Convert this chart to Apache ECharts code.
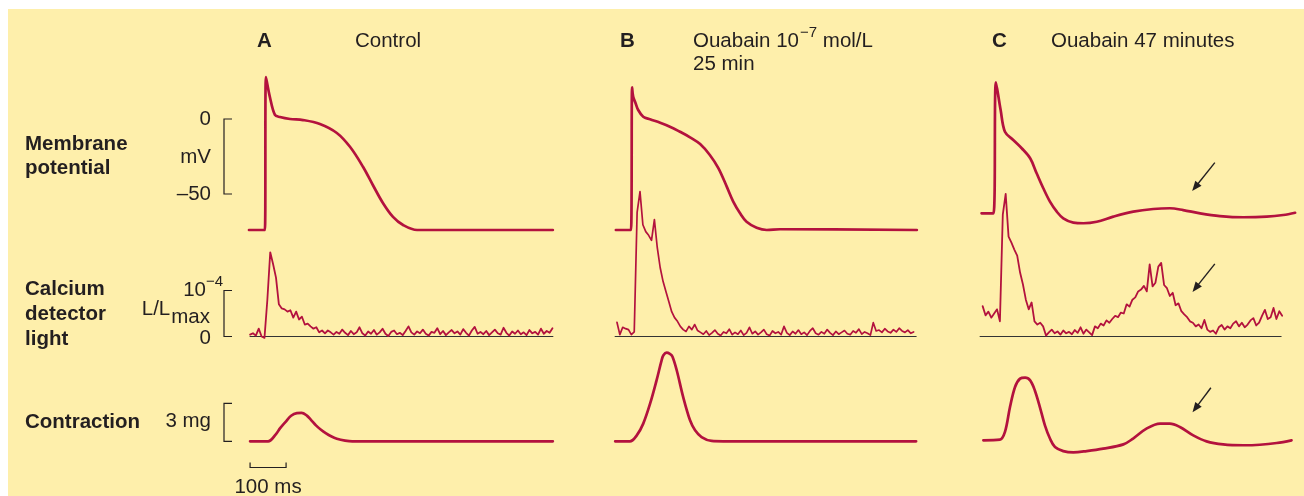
<!DOCTYPE html>
<html><head><meta charset="utf-8">
<script src="https://cdn.jsdelivr.net/npm/echarts@6/dist/echarts.min.js"></script>
<style>html,body{margin:0;padding:0;background:#fff}#c{width:1304px;height:496px}</style>
</head><body><div id="c"></div>
<script>
// ---------- DATA (time in ms, membrane in mV, calcium in 1e-4 L/Lmax, contraction in mg) ----------
const memA = [[25,-74],[69,-74],[72,28],[83,14.7],[97,2.7],[111,1.3],[139,0],[175,-0.7],[222,-3.3],[269,-9.3],[306,-18.7],[342,-32],[369,-44],[397,-56],[425,-65.3],[453,-70.7],[492,-74],[869,-74]];
const memB = [[33,-74],[75,-74],[78,21.1],[81,14.9],[87.5,10.7],[95,6],[109,1.5],[128,-0.2],[156,-2.5],[183,-5.1],[211,-8.5],[239,-12.2],[267,-16.7],[294,-24],[318,-32.9],[341,-45.1],[359,-55.1],[378,-62.9],[396,-68.5],[424,-72.5],[452,-74],[489,-73.5],[869,-74]];
const memC = [[21,-62.9],[54,-62.9],[61,24.5],[74,6],[86,-8.5],[109,-14],[132.5,-19.5],[156,-26.2],[174,-36.2],[192.5,-46.2],[211,-55.1],[230,-61.8],[248,-66.2],[276,-69.1],[304,-69.5],[341,-68.5],[387,-65.1],[442.5,-61.8],[498,-60],[544,-59.5],[581,-60.7],[628,-62.9],[683,-64.7],[748,-65.5],[813,-65.1],[859,-64],[892,-62.5]];

const caStep = 8; // ms between calcium samples
const caA_t0 = 28;
const caA = [0.04,0.07,0.02,0.17,0.0,-0.03,0.8,1.83,1.57,1.28,0.70,0.61,0.59,0.54,0.57,0.41,0.54,0.37,0.43,0.26,0.28,0.22,0.17,0.20,0.09,0.13,0.07,0.13,0.09,0.04,
0.10,0.06,0.15,0.08,0.03,0.12,0.05,0.09,0.20,0.07,0.02,0.11,0.06,0.14,0.04,0.09,0.17,0.06,0.01,0.10,
0.13,0.05,0.08,0.03,0.12,0.22,0.09,0.04,0.11,0.07,0.15,0.06,0.02,0.10,0.08,0.18,0.05,0.12,0.03,0.09,
0.14,0.07,0.11,0.04,0.16,0.08,0.02,0.13,0.21,0.06,0.10,0.05,0.12,0.03,0.09,0.15,0.07,0.04,0.19,0.08,
0.02,0.11,0.06,0.13,0.05,0.09,0.03,0.14,0.07,0.10,0.04,0.17,0.06,0.12,0.08,0.18];
const caB_t0 = 36;
const caB = [0.31,0.04,0.20,0.17,0.15,0.04,0.10,2.70,3.15,2.43,2.28,2.20,2.09,2.54,1.93,1.50,1.20,0.98,0.76,0.54,0.41,0.33,0.22,0.15,0.11,0.22,0.15,0.26,0.13,0.09,
0.05,0.12,0.03,0.08,0.14,0.06,0.02,0.10,0.07,0.16,0.04,0.09,0.05,0.13,0.03,0.08,0.20,0.06,0.11,0.04,
0.09,0.15,0.05,0.02,0.12,0.07,0.10,0.04,0.22,0.08,0.03,0.11,0.06,0.14,0.05,0.09,0.03,0.12,0.18,0.07,
0.04,0.10,0.06,0.15,0.08,0.03,0.11,0.05,0.09,0.13,0.06,0.04,0.12,0.08,0.16,0.05,0.10,0.07,0.03,0.30,
0.12,0.14,0.09,0.17,0.11,0.08,0.15,0.10,0.18,0.12,0.09,0.14,0.07,0.10];
const caC_t0 = 24;
const caC = [0.66,0.46,0.54,0.41,0.50,0.59,0.33,2.65,3.10,2.17,2.04,1.89,1.76,1.39,1.13,0.80,0.59,0.74,0.33,0.26,0.30,0.22,0.02,0.09,0.15,0.07,0.11,0.04,0.13,0.07,
0.10,0.05,0.14,0.08,0.20,0.06,0.15,0.09,0.03,0.22,0.18,0.28,0.24,0.35,0.30,0.38,0.45,0.42,0.52,0.50,
0.70,0.65,0.80,0.85,0.98,1.02,1.10,0.98,1.57,1.09,1.17,1.52,1.60,1.12,1.05,0.88,0.95,0.68,0.72,0.55,
0.48,0.42,0.33,0.30,0.22,0.26,0.18,0.36,0.15,0.10,0.13,0.06,0.20,0.25,0.15,0.22,0.18,0.28,0.33,0.22,
0.30,0.20,0.26,0.35,0.40,0.24,0.30,0.45,0.58,0.38,0.42,0.62,0.38,0.55,0.45];
const caZeroA = [28,869], caZeroB = [31,867], caZeroC = [17,853];

const conA = [[28,0],[78,0],[100,0.57],[111,1.02],[126,1.52],[142,2.02],[158,2.23],[171,2.25],[185,2.05],[197,1.70],[211,1.26],[225,0.91],[238,0.65],[253,0.40],[269,0.21],[292,0.06],[312,0],[869,0]];
const conB = [[31,0],[72,0],[91,0.47],[109,1.40],[128,2.97],[146,4.81],[160,6.39],[165,6.79],[174,7.0],[183,6.9],[190,6.7],[202,5.61],[220,3.49],[239,1.66],[253,0.87],[271,0.34],[299,0.03],[331,0],[867,0]];
const conC = [[26,0.08],[72,0.13],[86,0.74],[100,2.71],[114,4.29],[128,4.95],[142,5.03],[156,4.81],[169,4.02],[183,2.71],[197,1.26],[211,0.22],[225,-0.45],[248,-0.77],[276,-0.87],[313,-0.77],[359,-0.58],[415,-0.24],[442,0.22],[479,1.0],[517,1.4],[544,1.4],[572,1.13],[609,0.47],[646,0],[692,-0.24],[748,-0.31],[794,-0.27],[841,-0.13],[882,0.08]];

const memScale = [0, -50];   // mV bracket
const caScale = [0, 1];      // 1e-4 bracket
const conScale = [0, 3];     // mg bracket
const timeScale = [28, 128]; // 100 ms bar
// arrows: [gridIndex, tailT, tailV, headT, headV]
const arrows = [[2,669,-29.1,606,-48],[5,669,1.58,607,0.97],[8,658,4.23,607,2.29]];

// ---------- CHART ----------
const INK = '#231f20', RED = '#b3123e', BG = '#feefab';
const FONT = '"Liberation Sans", Arial, Helvetica, sans-serif';
const chart = echarts.init(document.getElementById('c'), null, {renderer:'canvas'});
const colLeft = [240, 604, 974];
const rows = [
  {top:59, height:180, min:-80, max:40},
  {top:175.5, height:184, min:-0.5, max:3.5},
  {top:340, height:126.67, min:-2, max:8}
];
const grid = [], xAxis = [], yAxis = [];
rows.forEach(r => colLeft.forEach(l => {
  const gi = grid.length;
  grid.push({left:l, top:r.top, width:324, height:r.height, show:false});
  xAxis.push({type:'value', gridIndex:gi, min:0, max:900, show:false});
  yAxis.push({type:'value', gridIndex:gi, min:r.min, max:r.max, show:false});
}));
const series = [];
function addLine(gi, data, w, color, z, smooth){
  series.push({type:'line', xAxisIndex:gi, yAxisIndex:gi, data:data, symbol:'none', showSymbol:false,
    clip:false, silent:true, z:z||3, smooth:smooth||false, lineStyle:{width:w, color:color, join:'round', cap:'round'}});
}
const sampled = (t0, vals) => vals.map((v,i) => [t0 + i*caStep, v]);
[memA, memB, memC].forEach((d,i) => addLine(i, d, 2.7, RED, 3, 0.35));
[caZeroA, caZeroB, caZeroC].forEach((z,i) => addLine(3+i, [[z[0],0],[z[1],0]], 1.2, '#333', 2));
addLine(3, sampled(caA_t0, caA), 1.8, RED);
addLine(4, sampled(caB_t0, caB), 1.7, RED);
addLine(5, sampled(caC_t0, caC), 1.8, RED);
[conA, conB, conC].forEach((d,i) => addLine(6+i, d, 2.7, RED, 3, 0.35));

chart.setOption({animation:false, backgroundColor:BG, grid, xAxis, yAxis, series});

// ---------- ANNOTATIONS ----------
const ctx = document.createElement('canvas').getContext('2d');
function tw(txt, font){ ctx.font = font; return ctx.measureText(txt).width; }
const FS = 20.5;
const fN = FS + 'px ' + FONT, fB = 'bold ' + FS + 'px ' + FONT, fS = '15px ' + FONT;
const G = [];
function txt(s, x, y, font, align){
  G.push({type:'text', x:x, y:y, silent:true, style:{text:s, font:font, fill:INK, textAlign:align||'left', textVerticalAlign:'middle'}});
}
G.push({type:'rect', shape:{x:0,y:0,width:1304,height:9}, style:{fill:'#fff'}, silent:true});
G.push({type:'rect', shape:{x:0,y:0,width:8,height:496}, style:{fill:'#fff'}, silent:true});
const P = (g,t,v) => chart.convertToPixel({gridIndex:g}, [t,v]);
function bracket(g, sc){
  const y1 = P(g,0,sc[0])[1], y2 = P(g,0,sc[1])[1];
  G.push({type:'polyline', silent:true, shape:{points:[[232,y1],[224,y1],[224,y2],[232,y2]]}, style:{stroke:INK, lineWidth:1.2, fill:null}});
  return [y1,y2];
}
const mb = bracket(0, memScale), cb = bracket(3, caScale), kb = bracket(6, conScale);
const tx1 = P(6,timeScale[0],0)[0], tx2 = P(6,timeScale[1],0)[0];
G.push({type:'polyline', silent:true, shape:{points:[[tx1,462.5],[tx1,467.5],[tx2,467.5],[tx2,462.5]]}, style:{stroke:INK, lineWidth:1.2, fill:null}});
txt('100 ms', (tx1+tx2)/2, 487, fN, 'center');
arrows.forEach(a => {
  const p1 = P(a[0],a[1],a[2]), p2 = P(a[0],a[3],a[4]);
  const dx = p2[0]-p1[0], dy = p2[1]-p1[1], L = Math.hypot(dx,dy), ux = dx/L, uy = dy/L;
  const bx = p2[0]-ux*10, by = p2[1]-uy*10;
  G.push({type:'line', silent:true, shape:{x1:p1[0],y1:p1[1],x2:bx+ux*2,y2:by+uy*2}, style:{stroke:INK, lineWidth:1.4}});
  G.push({type:'polygon', silent:true, shape:{points:[[p2[0],p2[1]],[bx-uy*4,by+ux*4],[bx+uy*4,by-ux*4]]}, style:{fill:INK}});
});
// titles
txt('A', 257, 41, fB); txt('Control', 355, 41, fN);
txt('B', 620, 41, fB);
const w1 = tw('Ouabain 10', fN);
txt('Ouabain 10', 693, 41, fN);
txt('\u22127', 693 + w1 + 1, 33, fS);
txt(' mol/L', 693 + w1 + 1 + tw('\u22127', fS), 41, fN);
txt('25 min', 693, 64, fN);
txt('C', 992, 41, fB); txt('Ouabain 47 minutes', 1051, 41, fN);
// row labels
txt('Membrane', 25, 144, fB); txt('potential', 25, 168, fB);
txt('0', 211, mb[0], fN, 'right'); txt('mV', 211, 157, fN, 'right'); txt('\u201350', 211, mb[1], fN, 'right');
txt('Calcium', 25, 289, fB); txt('detector', 25, 314, fB); txt('light', 25, 339, fB);
txt('10', 206, cb[1], fN, 'right'); txt('\u22124', 206, cb[1]-9, fS);
const wLL = tw('L/L', fN), wMax = tw('max', fN);
txt('L/L', 210 - wLL - wMax - 1, 309, fN); txt('max', 210 - wMax, 317, fN);
txt('0', 211, cb[0]+2, fN, 'right');
txt('Contraction', 25, 422, fB); txt('3 mg', 211, 421, fN, 'right');
chart.setOption({graphic:{elements:G}});
</script></body></html>
